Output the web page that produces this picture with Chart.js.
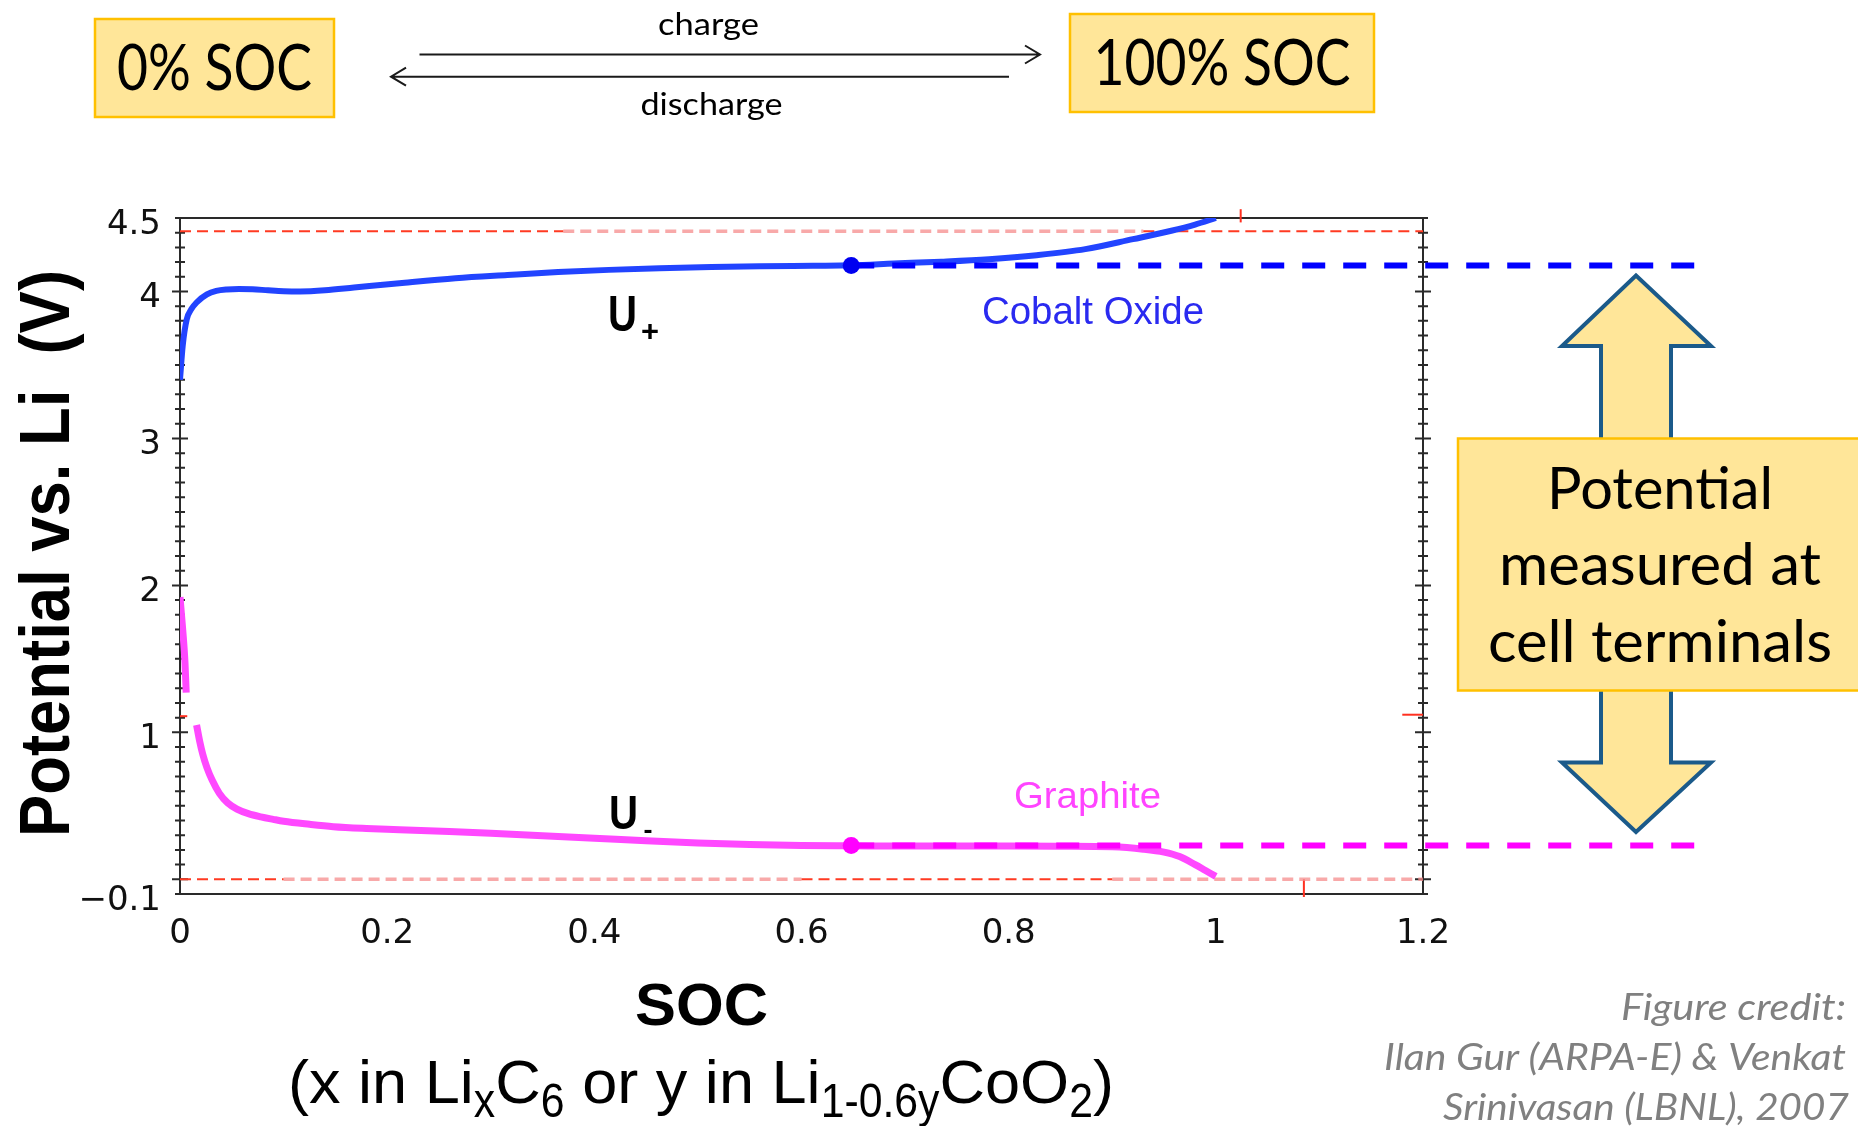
<!DOCTYPE html>
<html><head><meta charset="utf-8">
<script src="https://cdn.jsdelivr.net/npm/chart.js@4.4.1/dist/chart.umd.min.js"></script>
<style>html,body{margin:0;padding:0;background:#fff;overflow:hidden}canvas{display:block}</style>
</head><body>
<canvas id="c" width="1858" height="1126" style="width:1858px;height:1126px"></canvas>
<script>
// ---------- data ----------
const xTicks = [0, 0.2, 0.4, 0.6, 0.8, 1, 1.2];
const xTickLabels = ['0', '0.2', '0.4', '0.6', '0.8', '1', '1.2'];
const yTicks = [-0.1, 1, 2, 3, 4, 4.5];
const yTickLabels = ['\u22120.1', '1', '2', '3', '4', '4.5'];

// Cobalt oxide (U+) potential vs SOC
const cobaltSOC = [0, 0.0026, 0.0065, 0.011, 0.016, 0.026, 0.035, 0.045, 0.057, 0.07, 0.085, 0.1, 0.116, 0.14, 0.168, 0.217, 0.266, 0.316, 0.365, 0.414, 0.463, 0.513, 0.56, 0.611, 0.648, 0.689, 0.735, 0.781, 0.827, 0.874, 0.92, 0.957, 0.98, 1.0];
const cobaltV   = [3.40, 3.63, 3.81, 3.88, 3.925, 3.98, 4.004, 4.014, 4.017, 4.015, 4.008, 4.002, 4.0, 4.008, 4.027, 4.06, 4.09, 4.112, 4.132, 4.147, 4.158, 4.166, 4.171, 4.175, 4.178, 4.19, 4.203, 4.22, 4.247, 4.288, 4.356, 4.413, 4.455, 4.5];

// Graphite (U-) potential vs SOC (null = gap in the trace)
const graphiteSOC = [0, 0.0026, 0.0048, 0.006, 0.011, 0.016, 0.019, 0.022, 0.026, 0.031, 0.038, 0.046, 0.055, 0.066, 0.078, 0.09, 0.1, 0.125, 0.148, 0.18, 0.212, 0.26, 0.3, 0.35, 0.4, 0.45, 0.5, 0.55, 0.6, 0.648, 0.7, 0.75, 0.8, 0.85, 0.9, 0.93, 0.95, 0.965, 0.98, 0.99, 1.0];
const graphiteV   = [1.92, 1.70, 1.475, 1.27, null, 1.05, 0.94, 0.85, 0.76, 0.675, 0.585, 0.52, 0.478, 0.447, 0.425, 0.408, 0.395, 0.374, 0.358, 0.346, 0.338, 0.325, 0.313, 0.297, 0.28, 0.262, 0.247, 0.236, 0.23, 0.228, 0.226, 0.226, 0.226, 0.225, 0.221, 0.205, 0.185, 0.155, 0.1, 0.06, 0.02];

// operating point and projection to cell terminals
const operatingSOC = 0.648;
const cobaltPointV = 4.177;
const graphitePointV = 0.23;
const projectionEndSOC = 1.477;

// red reference (cut-off) lines of the original plot
const cutoffHighV = 4.41;
const cutoffLowV = 0.0;
const highDarkSegs = [[0, 0.37], [0.93, 1.2]];
const highLightSegs = [[0.37, 0.93]];
const lowDarkSegs = [[0, 0.1], [0.6, 0.9]];
const lowLightSegs = [[0.1, 0.6], [0.9, 1.2]];
const redMarkTop = {soc: [1.024, 1.024], v: [4.47, 4.56]};
const redMarkBottom = {soc: [1.085, 1.085], v: [0.0, -0.12]};
const redMarkRight = {soc: [1.18, 1.2], v: [1.12, 1.12]};
const redMarkLeft = {soc: [0, 0.007], v: [1.11, 1.11]};

// ---------- build datasets ----------
const pts = (xs, ys) => xs.map((x, i) => ({x: x, y: ys[i]}));
function segSets(list, v, color, width, dash) {
  return list.map(([a, b]) => ({data: [{x: a, y: v}, {x: b, y: v}], showLine: true, borderColor: color,
    borderWidth: width, borderDash: dash, pointRadius: 0, clip: false}));
}
function markSet(m) {
  return {data: pts(m.soc, m.v), showLine: true, borderColor: '#ff3020', borderWidth: 2, pointRadius: 0, clip: false};
}
const datasets = [
  {data: [{x: operatingSOC, y: cobaltPointV}], pointRadius: 8.5, pointBackgroundColor: '#0000f0', pointBorderWidth: 0, showLine: false},
  {data: [{x: operatingSOC, y: graphitePointV}], pointRadius: 8.5, pointBackgroundColor: '#ff00ff', pointBorderWidth: 0, showLine: false},
  {data: [{x: operatingSOC, y: cobaltPointV}, {x: projectionEndSOC, y: cobaltPointV}], showLine: true, borderColor: '#0000ff',
    borderWidth: 6, borderDash: [23, 18], pointRadius: 0, clip: false},
  {data: [{x: operatingSOC, y: graphitePointV}, {x: projectionEndSOC, y: graphitePointV}], showLine: true, borderColor: '#ff00ff',
    borderWidth: 6, borderDash: [23, 18], pointRadius: 0, clip: false},
  {data: pts(cobaltSOC, cobaltV), showLine: true, borderColor: '#2244ff', borderWidth: 6, pointRadius: 0, cubicInterpolationMode: 'monotone'},
  {data: pts(graphiteSOC, graphiteV), showLine: true, borderColor: '#ff48ff', borderWidth: 7, pointRadius: 0, spanGaps: false, cubicInterpolationMode: 'monotone'},
  ...segSets(highDarkSegs, cutoffHighV, '#ff3a22', 2, [11, 6]),
  ...segSets(highLightSegs, cutoffHighV, 'rgba(245,140,140,0.75)', 3.5, [11, 6]),
  ...segSets(lowDarkSegs, cutoffLowV, '#ff3a22', 2, [11, 6]),
  ...segSets(lowLightSegs, cutoffLowV, 'rgba(245,140,140,0.75)', 3.5, [11, 6]),
  markSet(redMarkTop), markSet(redMarkBottom), markSet(redMarkRight), markSet(redMarkLeft)
];

// ---------- drawing helpers ----------
function fitText(ctx, s, x, y, font, color, align, w, sy) {
  ctx.save();
  ctx.font = font; ctx.fillStyle = color; ctx.textAlign = align; ctx.textBaseline = 'alphabetic';
  const nat = ctx.measureText(s).width;
  ctx.translate(x, y); ctx.scale(w ? w / nat : 1, sy || 1);
  ctx.fillText(s, 0, 0);
  ctx.restore();
}
function box(ctx, x, y, w, h) {
  ctx.save(); ctx.fillStyle = '#FFE699'; ctx.strokeStyle = '#FFC000'; ctx.lineWidth = 2.5;
  ctx.fillRect(x, y, w, h); ctx.strokeRect(x, y, w, h); ctx.restore();
}
function hArrow(ctx, x1, x2, y) {
  const d = Math.sign(x2 - x1);
  ctx.save(); ctx.strokeStyle = '#1a1a1a'; ctx.lineWidth = 2; ctx.beginPath();
  ctx.moveTo(x1, y); ctx.lineTo(x2, y);
  ctx.moveTo(x2 - d * 15, y - 9); ctx.lineTo(x2, y); ctx.lineTo(x2 - d * 15, y + 9);
  ctx.stroke(); ctx.restore();
}

const decor = {
  id: 'decor',
  beforeDatasetsDraw(chart) {
    const {ctx, chartArea: a, scales: {y}} = chart;
    ctx.save();
    ctx.strokeStyle = '#2a2a2a'; ctx.lineWidth = 2;
    ctx.strokeRect(a.left, a.top, a.right - a.left, a.bottom - a.top);
    ctx.beginPath();
    for (let k = -1; k <= 45; k++) {
      const py = y.getPixelForValue(k / 10);
      const L = (k % 10 === 0) ? 8 : 5;
      ctx.moveTo(a.left - L, py); ctx.lineTo(a.left + L, py);
      ctx.moveTo(a.right - L, py); ctx.lineTo(a.right + L, py);
    }
    ctx.stroke();
    ctx.restore();
  },
  afterDraw(chart) {
    const ctx = chart.ctx;
    // top state boxes
    box(ctx, 95, 19, 239, 98);
    fitText(ctx, '0% SOC', 214.5, 90, '58px Lato', '#000', 'center', 195, 1.1);
    box(ctx, 1070, 14, 304, 98);
    fitText(ctx, '100% SOC', 1222, 85, '58px Lato', '#000', 'center', 257, 1.1);
    hArrow(ctx, 419.5, 1040, 54.5);
    hArrow(ctx, 1009, 391, 76.7);
    fitText(ctx, 'charge', 708.5, 35, '29px Lato', '#000', 'center', 101, 1.05);
    fitText(ctx, 'discharge', 711.5, 114.5, '29px Lato', '#000', 'center', 142, 1.05);

    // double arrow + box
    ctx.save();
    ctx.beginPath();
    const cx = 1636;
    ctx.moveTo(cx, 275.5); ctx.lineTo(1711, 346); ctx.lineTo(1671, 346); ctx.lineTo(1671, 762.5);
    ctx.lineTo(1711, 762.5); ctx.lineTo(cx, 832); ctx.lineTo(1562, 762.5); ctx.lineTo(1601, 762.5);
    ctx.lineTo(1601, 346); ctx.lineTo(1562, 346); ctx.closePath();
    ctx.fillStyle = '#FFE699'; ctx.fill();
    ctx.strokeStyle = '#1b5a8a'; ctx.lineWidth = 4; ctx.lineJoin = 'miter'; ctx.stroke();
    ctx.restore();
    box(ctx, 1458, 438.5, 412, 252);
    fitText(ctx, 'Potential', 1660, 508.8, '58px Lato', '#000', 'center', 226);
    fitText(ctx, 'measured at', 1660, 585.3, '58px Lato', '#000', 'center', 322);
    fitText(ctx, 'cell terminals', 1660, 661.8, '58px Lato', '#000', 'center', 344);

    // curve labels
    fitText(ctx, 'U', 608, 331, 'bold 50px "Liberation Sans"', '#000', 'left', 29);
    fitText(ctx, '+', 650, 341, 'bold 30px "Liberation Sans"', '#000', 'center', 18);
    fitText(ctx, 'U', 609, 829, 'bold 48px "Liberation Sans"', '#000', 'left', 29);
    fitText(ctx, '-', 648, 838, 'bold 26px "Liberation Sans"', '#000', 'center', 9);
    fitText(ctx, 'Cobalt Oxide', 1093, 324, '38px "Liberation Sans"', '#2a2af0', 'center', 222);
    fitText(ctx, 'Graphite', 1087.5, 808, '37px "Liberation Sans"', '#ff44ff', 'center', 147);

    // y title (rotated)
    ctx.save();
    ctx.translate(69, 553.5); ctx.rotate(-Math.PI / 2);
    ctx.font = 'bold 70px "Liberation Sans"'; ctx.fillStyle = '#000'; ctx.textAlign = 'center';
    const yt = 'Potential vs. Li  (V)';
    const ytw = ctx.measureText(yt).width;
    ctx.scale(567 / ytw, 1);
    ctx.fillText(yt, 0, 0);
    ctx.restore();

    // x title
    fitText(ctx, 'SOC', 701.5, 1025, 'bold 60px "Liberation Sans"', '#000', 'center', 133);
    const runs = [['(x in Li', 0], ['x', 1], ['C', 0], ['6', 1], [' or y in Li', 0], ['1-0.6y', 1], ['CoO', 0], ['2', 1], [')', 0]];
    const mainF = '62px "Liberation Sans"', subF = '42px "Liberation Sans"';
    let tot = 0;
    runs.forEach(r => { ctx.font = r[1] ? subF : mainF; tot += ctx.measureText(r[0]).width; });
    const target = 826, sx = target / tot;
    let px = 701 - target / 2;
    runs.forEach(r => {
      ctx.save();
      ctx.font = r[1] ? subF : mainF; ctx.fillStyle = '#000'; ctx.textAlign = 'left';
      const w = ctx.measureText(r[0]).width * sx;
      ctx.translate(px, r[1] ? 1117 : 1103); ctx.scale(sx, r[1] ? 1.15 : 1);
      ctx.fillText(r[0], 0, 0);
      ctx.restore();
      px += w;
    });

    // credit
    fitText(ctx, 'Figure credit:', 1846, 1020, 'italic 36px Lato', '#808080', 'right', 225);
    fitText(ctx, 'Ilan Gur (ARPA-E) & Venkat', 1846, 1070, 'italic 36px Lato', '#808080', 'right', 462);
    fitText(ctx, 'Srinivasan (LBNL), 2007', 1849, 1120, 'italic 36px Lato', '#808080', 'right', 406);
  }
};

new Chart(document.getElementById('c').getContext('2d'), {
  type: 'scatter',
  data: {datasets: datasets},
  options: {
    responsive: false, animation: false, devicePixelRatio: 1,
    layout: {padding: {left: 0, right: 435, top: 218, bottom: 0}},
    plugins: {legend: {display: false}, tooltip: {enabled: false}},
    scales: {
      x: {
        type: 'linear', position: 'bottom', min: 0, max: 1.2,
        afterFit(s) { s.height = 232; },
        afterBuildTicks(s) { s.ticks = xTicks.map(v => ({value: v})); },
        ticks: {callback: (v, i) => xTickLabels[i], font: {family: 'DejaVu Sans', size: 34}, color: '#111',
          padding: 20, maxRotation: 0, autoSkip: false},
        grid: {display: false, drawTicks: false}, border: {display: false}
      },
      y: {
        type: 'linear', position: 'left', min: -0.1, max: 4.5,
        afterFit(s) { s.width = 180; },
        afterBuildTicks(s) { s.ticks = yTicks.map(v => ({value: v})); },
        ticks: {callback: (v, i) => yTickLabels[i], font: {family: 'DejaVu Sans', size: 34}, color: '#111',
          padding: 19, labelOffset: 7, autoSkip: false},
        grid: {display: false, drawTicks: false}, border: {display: false}
      }
    }
  },
  plugins: [decor]
});
</script>
</body></html>
